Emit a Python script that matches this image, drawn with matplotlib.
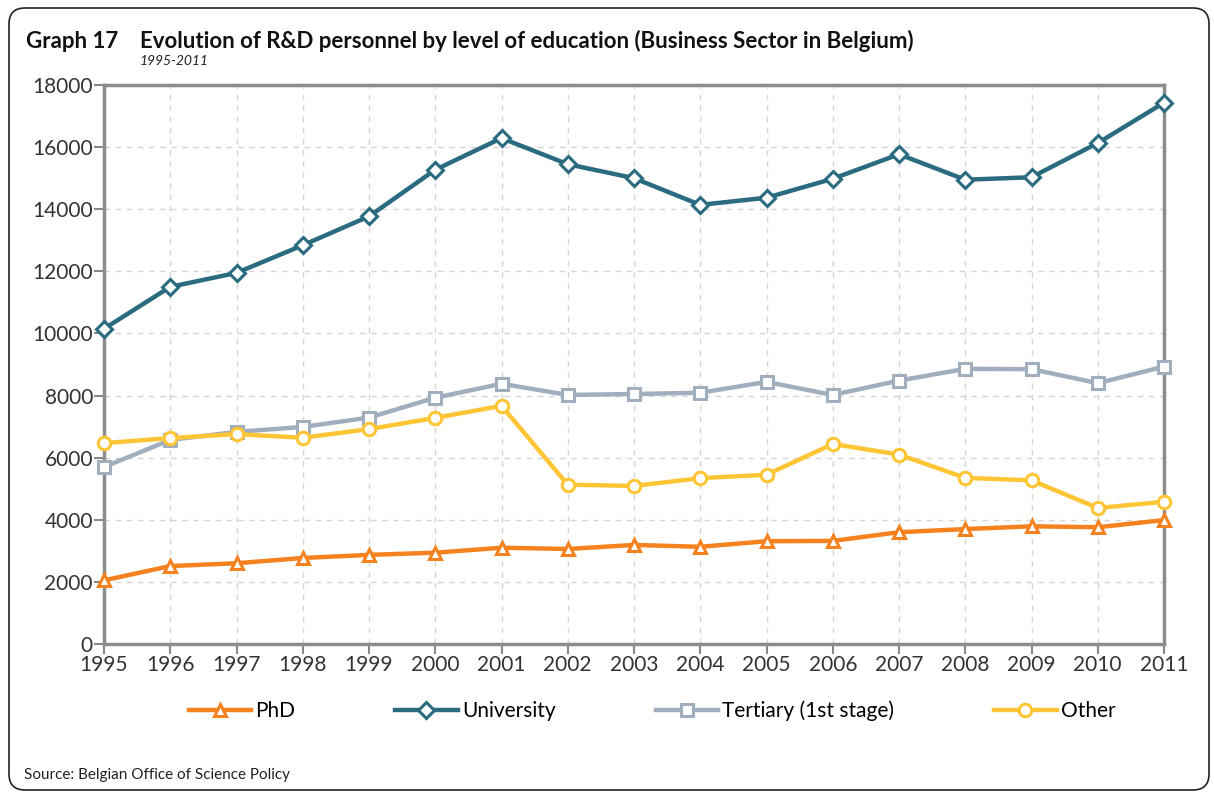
import matplotlib
matplotlib.use('Agg')
import matplotlib.pyplot as plt
from matplotlib.patches import FancyBboxPatch
from matplotlib.transforms import IdentityTransform

years = list(range(1995, 2012))
phd = [2050, 2510, 2600, 2770, 2870, 2940, 3100, 3060, 3190, 3130, 3310, 3320, 3600, 3700, 3790, 3760, 3990]
university = [10150, 11500, 11950, 12840, 13770, 15270, 16290, 15450, 15000, 14140, 14370, 14980, 15770, 14950, 15030, 16130, 17430]
tertiary = [5700, 6570, 6830, 6990, 7290, 7930, 8380, 8020, 8050, 8090, 8440, 8020, 8480, 8860, 8850, 8400, 8930]
other = [6470, 6630, 6760, 6640, 6920, 7280, 7670, 5130, 5090, 5340, 5450, 6440, 6100, 5350, 5270, 4380, 4580]

yticks = list(range(0, 18001, 2000))

plt.rcParams['font.family'] = ['Lato', 'DejaVu Sans']

W, H = 1214, 794
fig = plt.figure(figsize=(W / 100, H / 100), dpi=100)
ax = fig.add_axes([104/W, 150/H, 1060/W, 559/H])

# rounded frame round the whole chart (pixel coords)
frame = FancyBboxPatch((9, 4), 1200, 782,
                       boxstyle='round,pad=0,rounding_size=16',
                       transform=IdentityTransform(), facecolor='none',
                       edgecolor='#222222', linewidth=1.2)
fig.patches.append(frame)

mk = dict(markersize=9, markerfacecolor='white', markeredgewidth=2.2, linewidth=3.2, clip_on=False)
ax.plot(years, phd, marker='^', color='#F5821F', label='PhD', zorder=5, **mk)
ax.plot(years, university, marker='D', color='#2A6B80', label='University', zorder=6,
        **{**mk, 'markersize': 8})
ax.plot(years, tertiary, marker='s', color='#A1AEBD', label='Tertiary (1st stage)', zorder=4, **mk)
ax.plot(years, other, marker='o', color='#FFC534', label='Other', zorder=5, **mk)

ax.set_xlim(1995, 2011)
ax.set_ylim(0, 18000)
ax.set_xticks(years)
ax.set_yticks(yticks)
ax.tick_params(axis='both', labelsize=15, colors='#888888', labelcolor='#333333',
               width=1.5, length=7, direction='out', pad=1)
ax.grid(True, linestyle=(0, (4, 4)), color='#D5D5D5', linewidth=1)
ax.set_axisbelow(True)
for s in ax.spines.values():
    s.set_color('#8C8C8C')
    s.set_linewidth(2.5)

fig.text(26/W, 1 - 41/H, 'Graph 17', fontsize=16, fontweight='bold',
         va='center', color='#111111')
fig.text(140/W, 1 - 41/H, 'Evolution of R&D personnel by level of education (Business Sector in Belgium)',
         fontsize=16, fontweight='bold', va='center', color='#111111')
fig.text(140/W, 1 - 61/H, '1995-2011', fontsize=10, style='italic', va='center', color='#222222')
fig.text(24/W, 1 - 775/H, 'Source: Belgian Office of Science Policy', fontsize=11,
         va='center', color='#222222')

fig.legend(loc='center', bbox_to_anchor=(652/W, 1 - 711/H), ncol=4, frameon=False,
           fontsize=15, columnspacing=4.8, handlelength=3, handletextpad=0.2)

fig.savefig('out.png', dpi=100)
